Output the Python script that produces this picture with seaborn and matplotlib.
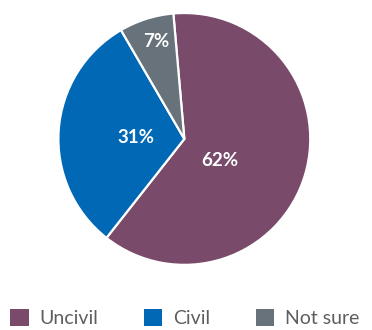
import matplotlib
matplotlib.use("Agg")
import matplotlib.pyplot as plt
import seaborn as sns
from matplotlib.patches import Patch

sns.set_theme(style="white")
plt.rcParams["font.family"] = ["Lato", "DejaVu Sans"]

categories = ["Uncivil", "Civil", "Not sure"]
shares = [62, 31, 7]
colors = sns.color_palette(["#7a4a6a", "#0068b4", "#67727a"])

# label anchor points inside each wedge (axes data units, radius = 1)
label_xy = [(0.28, -0.175), (-0.385, 0.012), (-0.226, 0.77)]

fig = plt.figure(figsize=(3.72, 3.30), dpi=100)
ax = fig.add_axes([0.157, 0.197, 0.677, 0.764])

wedges, _ = ax.pie(
    shares,
    colors=colors,
    startangle=95,
    counterclock=False,
    radius=1.0,
    wedgeprops=dict(edgecolor="white", linewidth=1.6),
)
for v, (x, y) in zip(shares, label_xy):
    ax.text(x, y, f"{v}%", ha="center", va="center", color="white",
            fontsize=13.5, fontweight="bold")
ax.set_xlim(-1, 1)
ax.set_ylim(-1, 1)
ax.set_aspect("equal")
ax.axis("off")

handles = [Patch(facecolor=c, edgecolor="none") for c in colors]
fig.legend(
    handles, categories,
    loc="lower left", bbox_to_anchor=(-0.02, -0.045),
    ncol=3, frameon=False,
    handlelength=0.95, handleheight=0.95, handletextpad=0.55,
    columnspacing=2.35,
    prop=dict(size=14, weight="normal"),
    labelcolor="#5e5e5e",
)

fig.savefig("out.png", dpi=100)
